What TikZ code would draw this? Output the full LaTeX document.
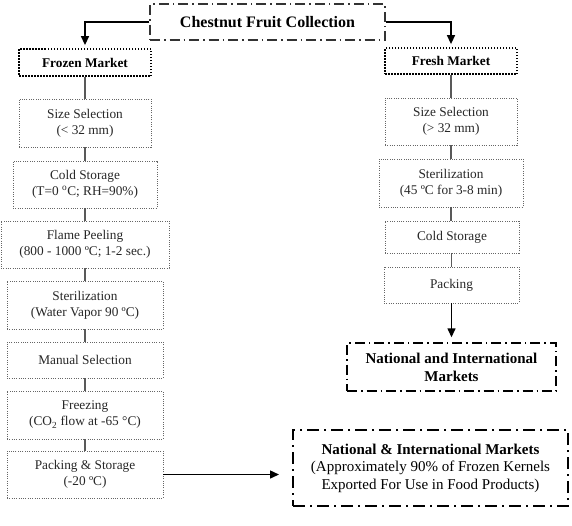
\documentclass[tikz,border=0pt]{standalone}
\usepackage{fontspec}
\setmainfont{Liberation Serif}
\usetikzlibrary{arrows.meta}
\begin{document}
\begin{tikzpicture}[x=1pt,y=-1pt,
  proc/.style={draw=black!60, line width=0.8pt, dash pattern=on 1pt off 1.3pt,
    align=center, inner sep=0pt, text=black!85, font=\fontsize{13.3}{16}\selectfont},
  mkt/.style={draw=black, line width=1.8pt, dash pattern=on 1.5pt off 1.5pt,
    inner sep=0pt, font=\fontsize{13.3}{16}\selectfont\bfseries},
  head/.style={draw=black!80, line width=1.2pt, dash pattern=on 10pt off 4pt on 1.5pt off 4pt,
    inner sep=0pt, font=\fontsize{16}{19}\selectfont\bfseries},
  fin/.style={draw=black, line width=1.4pt, dash pattern=on 10pt off 4pt on 1.5pt off 4pt,
    align=center, inner sep=0pt, font=\fontsize{15}{18}\selectfont},
  fin2/.style={draw=black, line width=2pt, dash pattern=on 12pt off 5pt on 2pt off 5pt,
    align=center, inner sep=0pt, font=\fontsize{15}{17.5}\selectfont},
  link/.style={draw=black!65, line width=1.5pt},
  arr/.style={draw=black, line width=1.4pt, -{Triangle[width=8pt,length=9pt]}}
]
\useasboundingbox (0,0) rectangle (572,525);

\node[head, minimum width=235pt, minimum height=36pt] (top) at (267.5,22) {Chestnut Fruit Collection};

\node[mkt, minimum width=132pt, minimum height=27pt] (fzm) at (85,62.5) {Frozen Market};
\node[mkt, minimum width=132pt, minimum height=26pt] (frm) at (451,61) {Fresh Market};

% left column
\node[proc, minimum width=132pt, minimum height=48pt] (ss1) at (85,123) {Size Selection\\(< 32 mm)};
\node[proc, minimum width=144pt, minimum height=47pt] (cs1) at (85,184.5) {Cold Storage\\(T=0 \textsuperscript{o}C; RH=90\%)};
\node[proc, minimum width=168pt, minimum height=47pt] (fp) at (85,244.5) {Flame Peeling\\(800 - 1000 ºC; 1-2 sec.)};
\node[proc, minimum width=156pt, minimum height=48pt] (st1) at (85,305) {Sterilization\\(Water Vapor 90 ºC)};
\node[proc, minimum width=156pt, minimum height=36pt] (ms) at (85,360) {Manual Selection};
\node[proc, minimum width=156pt, minimum height=48pt] (fr) at (85,415) {Freezing\\(CO\textsubscript{2} flow at -65 °C)};
\node[proc, minimum width=156pt, minimum height=47pt] (ps) at (85,474.5) {Packing \& Storage\\(-20 ºC)};

% right column
\node[proc, minimum width=132pt, minimum height=47pt] (ss2) at (451,121.5) {Size Selection\\(> 32 mm)};
\node[proc, minimum width=144pt, minimum height=48pt] (st2) at (451,183) {Sterilization\\(45 ºC for 3-8 min)};
\node[proc, minimum width=134pt, minimum height=32pt] (cs2) at (452,237) {Cold Storage};
\node[proc, minimum width=135pt, minimum height=36pt] (pk) at (451.5,285) {Packing};

\node[fin, minimum width=209pt, minimum height=48pt] (nim) at (451.5,367) {\textbf{National and International}\\\textbf{Markets}};
\node[fin2, minimum width=275pt, minimum height=76pt] (exp) at (430.5,468) {\textbf{National \& International Markets}\\(Approximately 90\% of Frozen Kernels\\Exported For Use in Food Products)};

% connectors
\draw[arr, shorten >=3pt] (top.west) -| (fzm.north);
\draw[arr, shorten >=3pt] (top.east) -| (frm.north);

\draw[link] (fzm.south) -- (fzm.south |- ss1.north);
\draw[link] (ss1.south) -- (ss1.south |- cs1.north);
\draw[link] (cs1.south) -- (cs1.south |- fp.north);
\draw[link] (fp.south) -- (fp.south |- st1.north);
\draw[link] (st1.south) -- (st1.south |- ms.north);
\draw[link] (ms.south) -- (ms.south |- fr.north);
\draw[link] (fr.south) -- (fr.south |- ps.north);

\draw[link] (frm.south) -- (frm.south |- ss2.north);
\draw[link] (ss2.south) -- (ss2.south |- st2.north);
\draw[link] (st2.south) -- (st2.south |- cs2.north);
\draw[link] (cs2.south -| pk.north) -- (pk.north);

\draw[arr, shorten >=5pt] (pk.south) -- (pk.south |- nim.north);
\draw[arr, shorten >=13pt] (ps.east) -- (ps.east -| exp.west);
\end{tikzpicture}
\end{document}
